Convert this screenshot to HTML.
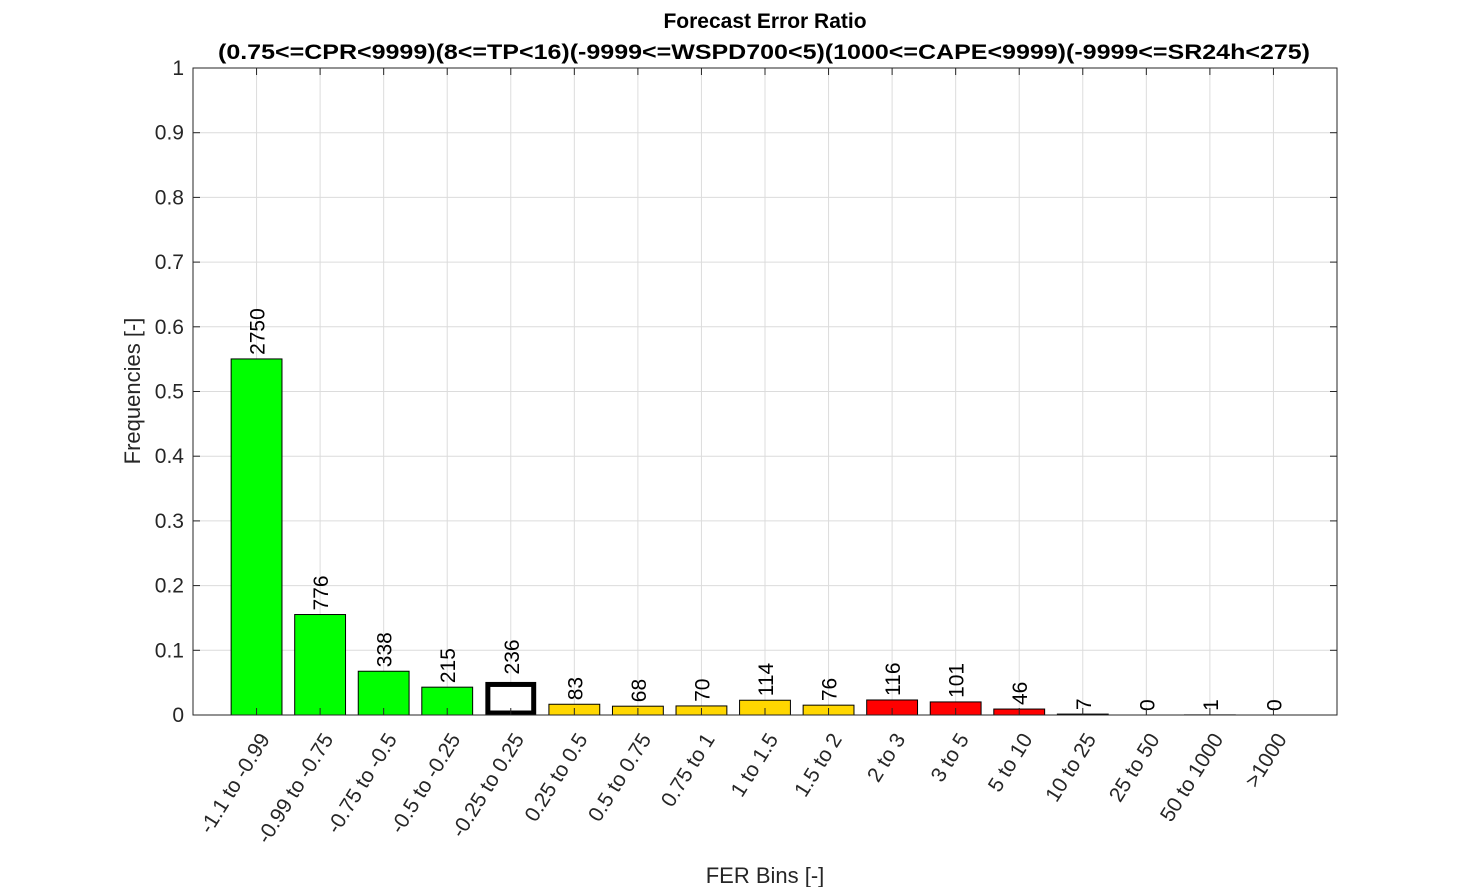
<!DOCTYPE html>
<html><head><meta charset="utf-8"><style>
body{margin:0;background:#fff;}
svg{display:block;font-family:"Liberation Sans",Arial,sans-serif;}
</style></head><body>
<svg id="chart" width="1477" height="887" viewBox="0 0 1477 887" xmlns="http://www.w3.org/2000/svg"></svg>
<script>
const categories=["-1.1 to -0.99","-0.99 to -0.75","-0.75 to -0.5","-0.5 to -0.25","-0.25 to 0.25","0.25 to 0.5","0.5 to 0.75","0.75 to 1","1 to 1.5","1.5 to 2","2 to 3","3 to 5","5 to 10","10 to 25","25 to 50","50 to 1000",">1000"];
const counts=[2750,776,338,215,236,83,68,70,114,76,116,101,46,7,0,1,0];
const colorGroups=["g","g","g","g","box","y","y","y","y","y","r","r","r","r","r","r","r"];
const yTicks=[0,0.1,0.2,0.3,0.4,0.5,0.6,0.7,0.8,0.9,1];
const yTickLabels=["0","0.1","0.2","0.3","0.4","0.5","0.6","0.7","0.8","0.9","1"];

const svg=document.getElementById('chart');
const NS="http://www.w3.org/2000/svg";
const L=193,R=1337,T=68,B=715;
const xs=i=>L+(i+1)*(R-L)/18;
const ys=v=>B-v*(B-T);
const bw=0.8*(R-L)/18;
const total=counts.reduce((a,b)=>a+b,0);
const freqs=counts.map(c=>c/total);
const fills={g:"#00ff00",y:"#ffd700",r:"#ff0000",box:"#ffffff"};
function mk(tag,attrs,parent){const e=document.createElementNS(NS,tag);for(const k in attrs)e.setAttribute(k,attrs[k]);(parent||svg).appendChild(e);return e;}

mk('rect',{x:L,y:T,width:R-L,height:B-T,fill:'#fff'});
const grid=mk('g',{});


yTicks.forEach(v=>{const l=mk('line',{x1:L,x2:R,y1:ys(v),y2:ys(v),stroke:'#dcdcdc','stroke-width':1},grid);

});
categories.forEach((c,i)=>{const l=mk('line',{x1:xs(i),x2:xs(i),y1:T,y2:B,stroke:'#dcdcdc','stroke-width':1},grid);

});

const bars=mk('g',{});


freqs.forEach((f,i)=>{
  const g=colorGroups[i];
  const h=B-ys(f);
  if(g==='box'){
    const r=mk('rect',{x:xs(i)-bw/2+2.5,y:ys(f),width:bw-5,height:h-2,fill:'#fff',stroke:'#000','stroke-width':5},bars);
    
    
  } else if(f>0){
    const r=mk('rect',{x:xs(i)-bw/2,y:ys(f),width:bw,height:h,fill:fills[g],stroke:'#000','stroke-width':1},bars);
    
    
  }
  const t=mk('text',{transform:`translate(${xs(i)+8},${ys(f)-(g==='box'?10:4)}) rotate(-90)`,'font-size':21,fill:'#000'},bars);
  t.textContent=counts[i];
  
  
});

mk('rect',{x:L,y:T,width:R-L,height:B-T,fill:'none',stroke:'#262626','stroke-width':1});
const ax=mk('g',{});


yTicks.forEach((v,i)=>{
  mk('line',{x1:L,x2:L+7,y1:ys(v),y2:ys(v),stroke:'#262626'},ax);
  mk('line',{x1:R,x2:R-7,y1:ys(v),y2:ys(v),stroke:'#262626'},ax);
  const t=mk('text',{x:L-9,y:ys(v)+7,'text-anchor':'end','font-size':21,fill:'#262626'},ax);
  t.textContent=yTickLabels[i];
  
  
});
categories.forEach((c,i)=>{
  mk('line',{x1:xs(i),x2:xs(i),y1:B,y2:B-7,stroke:'#262626'},ax);
  mk('line',{x1:xs(i),x2:xs(i),y1:T,y2:T+7,stroke:'#262626'},ax);
  const t=mk('text',{transform:`translate(${xs(i)+14},${B+24}) rotate(-58)`,'text-anchor':'end','font-size':21,fill:'#262626'},ax);
  t.textContent=c;
  
  
});
let t=mk('text',{x:765,y:883,'text-anchor':'middle','font-size':22,fill:'#262626'});
t.textContent='FER Bins [-]';


t=mk('text',{transform:'translate(140,391) rotate(-90)','text-anchor':'middle','font-size':22,fill:'#262626'});
t.textContent='Frequencies [-]';


t=mk('text',{x:765,y:28,'text-anchor':'middle','font-size':21,'font-weight':'bold',fill:'#000'});
t.textContent='Forecast Error Ratio';


t=mk('text',{x:218,y:59,'font-size':21,'font-weight':'bold',fill:'#000',textLength:1092,lengthAdjust:'spacingAndGlyphs'});
t.textContent='(0.75<=CPR<9999)(8<=TP<16)(-9999<=WSPD700<5)(1000<=CAPE<9999)(-9999<=SR24h<275)';


</script>
</body></html>
